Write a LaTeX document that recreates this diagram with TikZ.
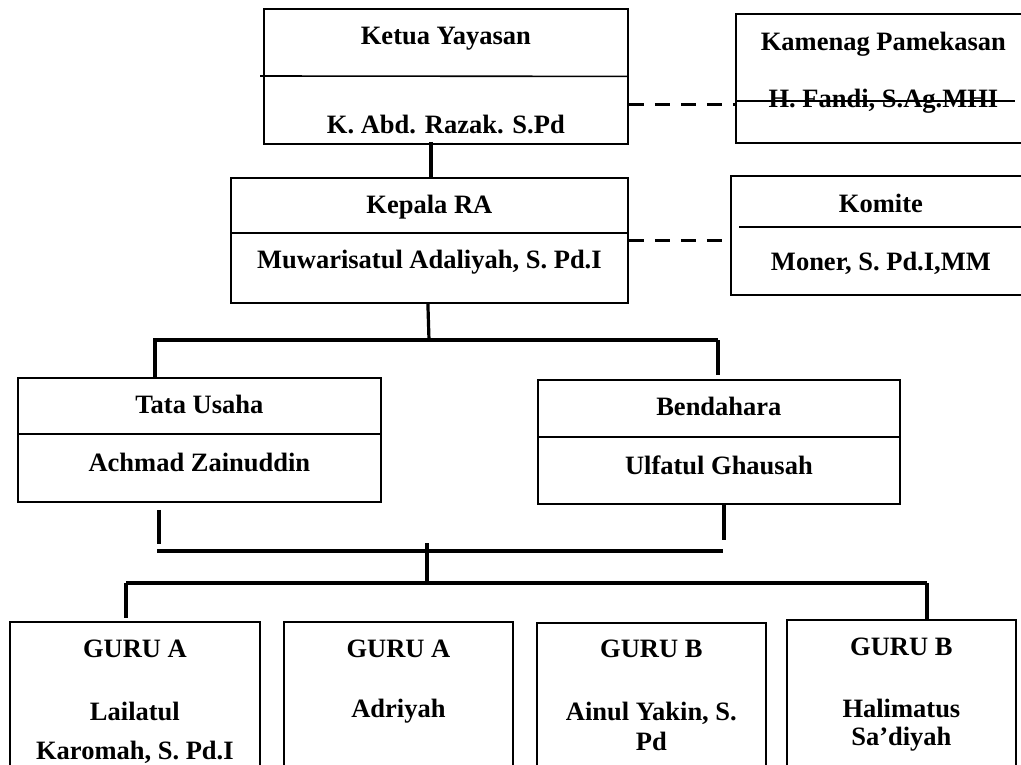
\documentclass[tikz,border=0pt]{standalone}
\usepackage{fontspec}
\setmainfont{Liberation Serif}
\begin{document}
\begin{tikzpicture}[x=1pt,y=-1pt,line join=miter,
  box/.style={draw,line width=1.8pt,inner sep=0pt,anchor=north west},
  rule/.style={line width=1.6pt},
  link/.style={line width=3.2pt},
  dashline/.style={line width=3pt,dash pattern=on 15pt off 11pt},
  lbl/.style={anchor=base,inner sep=0pt,font=\bfseries\fontsize{26.5}{30}\selectfont}]
\useasboundingbox (0,0) rectangle (1021,764);
\clip (0,0) rectangle (1021,764);
% boxes
\node[box,minimum width=364pt,minimum height=135pt] (ketua) at (263,8) {};
\node[box,minimum width=295pt,minimum height=129pt] (kamenag) at (735,13) {};
\node[box,minimum width=397pt,minimum height=125pt] (kepala) at (230,177) {};
\node[box,minimum width=300pt,minimum height=119pt] (komite) at (730,175) {};
\node[box,minimum width=363pt,minimum height=124pt] (tata) at (17,377) {};
\node[box,minimum width=362pt,minimum height=124pt] (bendahara) at (537,379) {};
\node[box,minimum width=250pt,minimum height=170pt] (guruA) at (9,621) {};
\node[box,minimum width=229pt,minimum height=170pt] (guruB) at (283,621) {};
\node[box,minimum width=229pt,minimum height=170pt] (guruC) at (536,622) {};
\node[box,minimum width=229pt,minimum height=170pt] (guruD) at (786,619) {};
% dividers
\draw[rule] (260,76) -- (ketua.east);
\draw[rule] ([yshift=-22.5pt]kamenag.west) -- ++(280,0);
\draw[rule] ([yshift=7.5pt]kepala.west) -- ([yshift=7.5pt]kepala.east);
\draw[rule] (739,227) -- (komite.east |- 739,227);
\draw[rule] ([yshift=6pt]tata.west) -- ([yshift=6pt]tata.east);
\draw[rule] ([yshift=5pt]bendahara.west) -- ([yshift=5pt]bendahara.east);
% texts
\node[lbl] (ketuaA) at (ketua |- 0,44) {Ketua Yayasan};
\node[lbl] (ketuaB) at (ketua |- 0,133) {K. Abd. Razak. S.Pd};
\node[lbl] (kamenagA) at (kamenag |- 0,50) {Kamenag Pamekasan};
\node[lbl] (kamenagB) at (kamenag |- 0,107) {H. Fandi, S.Ag.MHI};
\node[lbl] (kepalaA) at (kepala |- 0,213) {Kepala RA};
\node[lbl] (kepalaB) at (kepala |- 0,268) {Muwarisatul Adaliyah, S. Pd.I};
\node[lbl] (komiteA) at (komite |- 0,212) {Komite};
\node[lbl] (komiteB) at (komite |- 0,270) {Moner, S. Pd.I,MM};
\node[lbl] (tataA) at (tata |- 0,413) {Tata Usaha};
\node[lbl] (tataB) at (tata |- 0,471) {Achmad Zainuddin};
\node[lbl] (bendaharaA) at (bendahara |- 0,415) {Bendahara};
\node[lbl] (bendaharaB) at (bendahara |- 0,474) {Ulfatul Ghausah};
\node[lbl] (guruA1) at (guruA |- 0,657) {GURU A};
\node[lbl] (guruA2) at (guruA |- 0,720) {Lailatul};
\node[lbl] (guruA3) at (guruA |- 0,759) {Karomah, S. Pd.I};
\node[lbl] (guruB1) at (guruB |- 0,657) {GURU A};
\node[lbl] (guruB2) at (guruB |- 0,717) {Adriyah};
\node[lbl] (guruC1) at (guruC |- 0,657) {GURU B};
\node[lbl] (guruC2) at (guruC |- 0,720) {Ainul Yakin, S.};
\node[lbl] (guruC3) at (guruC |- 0,750) {Pd};
\node[lbl] (guruD1) at (guruD |- 0,655) {GURU B};
\node[lbl] (guruD2) at (guruD |- 0,717) {Halimatus};
\node[lbl] (guruD3) at (guruD |- 0,745) {Sa’diyah};
% connectors
\coordinate (busL) at (153,340); \coordinate (busR) at (718,340);
\coordinate (lowL) at (157,551); \coordinate (lowR) at (723,551);
\coordinate (guruL) at (126,583); \coordinate (guruR) at (927,583);
\draw[dashline] ([yshift=-28.5pt]ketua.east) coordinate (d1) -- (d1 -| kamenag.west);
\draw[dashline] (kepala.east) -- (kepala.east -| komite.west);
\draw[link] ([xshift=-15pt,yshift=3pt]ketua.south) -- ([xshift=1.5pt]kepala.north);
\draw[link] ([xshift=-1.5pt]kepala.south) -- (429,340);
\draw[link] (busL) -- (busR);
\draw[link] (155,340) -- (155,340 |- tata.north);
\draw[link] (busR) -- ([yshift=4pt]busR |- bendahara.north);
\draw[link] ([yshift=-7pt]tata.south -| 159,0) -- (159,544);
\draw[link] (bendahara.south -| 724,0) -- (724,540);
\draw[link] (lowL) -- (lowR);
\draw[link] (427,543) -- (427,581);
\draw[link] (guruL) -- (guruR);
\draw[link] (guruL) -- ([yshift=3pt]guruL |- guruA.north);
\draw[link] (guruR) -- (guruR |- guruD.north);
\end{tikzpicture}
\end{document}
